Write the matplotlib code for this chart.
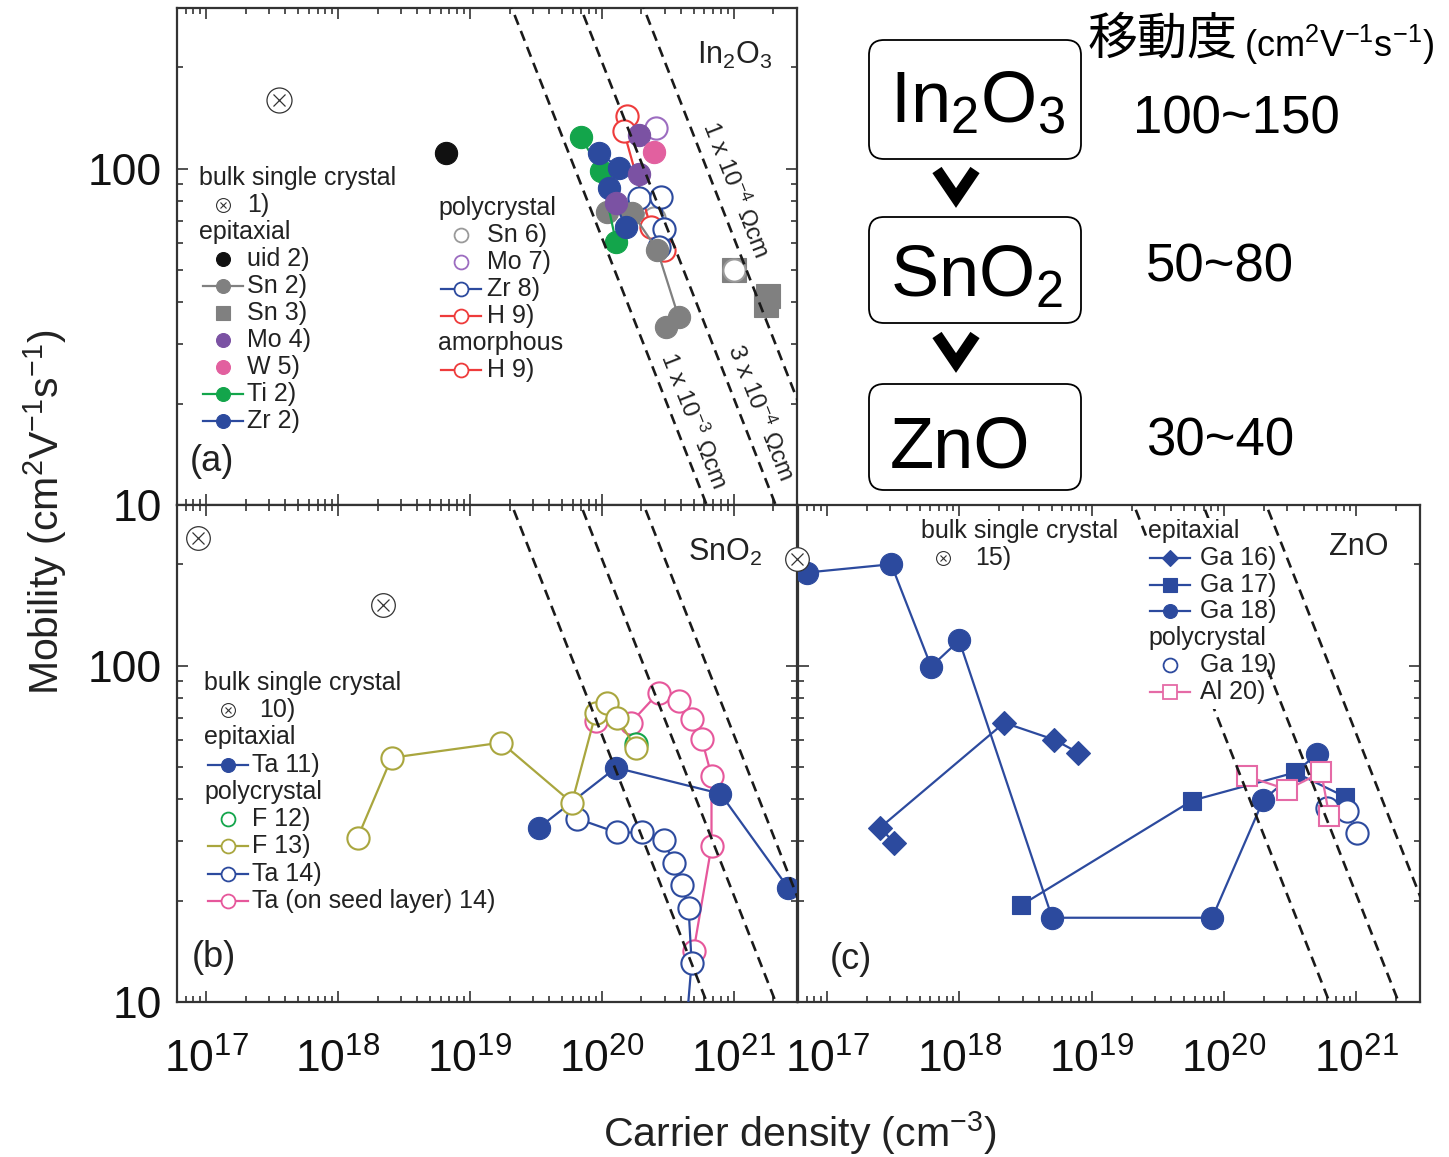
import matplotlib
matplotlib.use("Agg")
import numpy as np
import matplotlib.pyplot as plt
from matplotlib.lines import Line2D
from matplotlib.patches import FancyBboxPatch, Rectangle
from matplotlib.ticker import LogLocator, NullFormatter

plt.rcParams["font.family"] = ["Liberation Sans", "DejaVu Sans"]
plt.rcParams["mathtext.fontset"] = "custom"
plt.rcParams["mathtext.rm"] = "Liberation Sans"
plt.rcParams["mathtext.it"] = "Liberation Sans:italic"
plt.rcParams["mathtext.bf"] = "Liberation Sans:bold"

W, H = 1449, 1157

# ---------------- data: carrier density (cm^-3) / mobility (cm2/Vs) ----------------
# (a) In2O3
in_bulk_n, in_bulk_mu = [3.6e17], [160]
in_uid_n, in_uid_mu = [6.6e18], [111]
in_sn2_n = [1.09e20, 1.69e20, 2.63e20, 3.83e20, 3.05e20]
in_sn2_mu = [74.5, 74, 57.4, 36.1, 33.9]
in_sn3_n, in_sn3_mu = [1.0e21, 1.83e21, 1.77e21], [50, 41.9, 39.4]
in_mo4_n, in_mo4_mu = [1.91e20, 1.91e20, 1.28e20], [126, 96, 79]
in_w5_n, in_w5_mu = [2.48e20], [112]
in_ti2_n, in_ti2_mu = [6.95e19, 9.85e19, 1.28e20], [124, 98, 60.6]
in_zr2_n, in_zr2_mu = [9.5e19, 1.35e20, 1.13e20, 1.52e20], [111, 100.7, 87.8, 66.8]
in_sn6_n, in_sn6_mu = [1.0e21, 2.48e20], [50, 71.5]
in_mo7_n, in_mo7_mu = [2.56e20], [132]
in_zr8_n, in_zr8_mu = [1.91e20, 2.8e20, 2.95e20, 2.7e20], [82, 82.5, 65.9, 58.6]
in_h9_n, in_h9_mu = [1.55e20, 1.47e20, 2.35e20, 2.95e20], [143, 129, 66.8, 57.4]

# (b) SnO2
sn_bulk_n, sn_bulk_mu = [8.7e16, 2.21e18], [240, 151]
sn_ta11_n, sn_ta11_mu = [3.35e19, 1.28e20, 7.94e20, 2.6e21], [33.0, 49.7, 41.6, 21.8]
sn_f12_n, sn_f12_mu = [1.83e20], [58.5]
sn_f13_n = [1.41e18, 2.55e18, 1.73e19, 5.94e19, 9.02e19, 1.09e20, 1.30e20, 1.81e20]
sn_f13_mu = [30.8, 53.2, 59.0, 39.1, 72.4, 77.6, 70.0, 57.0]
sn_ta14_n = [6.49e19, 1.30e20, 2.01e20, 2.95e20, 3.51e20, 4.03e20, 4.55e20, 4.80e20, 4.32e20]
sn_ta14_mu = [35.1, 31.9, 31.9, 30.2, 25.9, 22.2, 19.0, 13.1, 8.0]
sn_seed_n = [9.02e19, 1.66e20, 2.70e20, 3.83e20, 4.80e20, 5.71e20, 6.79e20, 6.79e20, 4.97e20]
sn_seed_mu = [68.6, 67.6, 83.1, 78.7, 69.5, 60.6, 47.1, 29.1, 14.2]

# (c) ZnO
zn_bulk_n, zn_bulk_mu = [5.93e16], [207]
zn_ga16_n, zn_ga16_mu = [3.21e17, 2.52e17, 2.18e18, 5.20e18, 7.89e18], [29.7, 33.0, 67.6, 60.2, 55.1]
zn_ga17_n, zn_ga17_mu = [2.93e18, 5.74e19, 3.44e20, 8.22e20], [19.4, 39.7, 48.1, 40.7]
zn_ga18_n = [7.06e16, 3.05e17, 6.11e17, 9.95e17, 5.02e18, 8.13e19, 1.98e20, 5.06e20]
zn_ga18_mu = [189, 200, 99.3, 118.7, 17.8, 17.8, 39.9, 54.7]
zn_ga19_n, zn_ga19_mu = [6.01e20, 8.51e20, 1.01e21], [37.8, 37.0, 31.8]
zn_al20_n, zn_al20_mu = [1.50e20, 3.0e20, 5.42e20, 6.22e20], [46.8, 42.8, 48.1, 35.8]

# iso-resistivity lines (Ohm cm)
rho_values = [1e-3, 3e-4, 1e-4]
rho_labels = ["1 x 10$^{-3}$ Ωcm", "3 x 10$^{-4}$ Ωcm", "1 x 10$^{-4}$ Ωcm"]
rho_label_pos = [(4.97e20, 17.9), (1.6e21, 18.9), (1.03e21, 86.6)]
Q = 1.602e-19

x_ticks = [1e17, 1e18, 1e19, 1e20, 1e21]
x_tick_labels = ["$10^{17}$", "$10^{18}$", "$10^{19}$", "$10^{20}$", "$10^{21}$"]
y_ticks = [10, 100]
y_tick_labels = ["10", "100"]

materials = ["In$_2$O$_3$", "SnO$_2$", "ZnO"]
mobility_ranges = ["100~150", "50~80", "30~40"]

# colours
BLUE = "#2c4a9e"
GREEN = "#13a54b"
PURPLE = "#7b52a3"
PINK = "#e2609f"
GRAY = "#808080"
LGRAY = "#9a9a9a"
RED = "#ee3b3b"
LPURPLE = "#9c6cc0"
OLIVE = "#a9a63e"
SEEDPINK = "#e6579b"
ALPINK = "#e56aa6"
INK = "#333333"

LEG_FS = 18


def axes_rect(left, top, right, bottom):
    return [left / W, 1 - bottom / H, (right - left) / W, (bottom - top) / H]


def style_axes(ax, xlabels=True, ylabels=True):
    ax.set_xscale("log")
    ax.set_yscale("log")
    ax.set_xlim(10 ** 16.78, 10 ** 21.48)
    ax.set_ylim(10, 300)
    ax.set_xticks(x_ticks, labels=x_tick_labels)
    ax.set_yticks(y_ticks, labels=y_tick_labels)
    ax.xaxis.set_minor_locator(LogLocator(base=10, subs=np.arange(2, 10), numticks=30))
    ax.yaxis.set_minor_locator(LogLocator(base=10, subs=np.arange(2, 10), numticks=30))
    ax.xaxis.set_minor_formatter(NullFormatter())
    ax.yaxis.set_minor_formatter(NullFormatter())
    ax.tick_params(which="both", direction="in", top=True, right=True, color=INK,
                   labelcolor="#111111", labelsize=32, width=1.2)
    ax.tick_params(which="major", length=8)
    ax.tick_params(which="minor", length=4.5)
    ax.tick_params(axis="x", pad=26)
    ax.tick_params(axis="y", pad=11)
    ax.tick_params(labelbottom=xlabels, labelleft=ylabels)
    for sp in ax.spines.values():
        sp.set_linewidth(1.6)
        sp.set_color(INK)


def rho_lines(ax):
    n_ends = np.array([1e16, 1e23])
    for rho in rho_values:
        ax.plot(n_ends, 1.0 / (Q * rho * n_ends), ls=(0, (4, 2.5)), color="#1a1a1a", lw=1.9, zorder=5)


def series(ax, n, mu, color, marker="o", filled=True, line=True, ms=16, zorder=3):
    ax.plot(n, mu, ls="-" if line else "none", color=color, lw=1.6, marker=marker, ms=ms,
            mfc=color if filled else "white", mec=color, mew=0.8 if filled else 1.5, zorder=zorder)


def bulk(ax, n, mu, ms=18, clip=True):
    ax.plot(n, mu, ls="none", marker="o", ms=ms, mfc="white", mec=INK, mew=0.9, clip_on=clip, zorder=4)
    ax.plot(n, mu, ls="none", marker="x", ms=ms * 0.48, mec=INK, mew=0.9, clip_on=clip, zorder=4)


def draw_legend(ax, entries, x_head, x_mark, x_text, y0, dy, bulk_text=None):
    tr = ax.transAxes
    y = y0
    for e in entries:
        kind = e[0]
        if kind == "head":
            ax.text(x_head, y, e[1], transform=tr, fontsize=LEG_FS, ha="left", va="center",
                    color="#222222", zorder=8)
        elif kind == "bulk":
            ax.plot([x_mark], [y], ls="none", marker="o", ms=10, mfc="white", mec=INK, mew=0.8,
                    transform=tr, zorder=8)
            ax.plot([x_mark], [y], ls="none", marker="x", ms=5, mec=INK, mew=0.8, transform=tr, zorder=8)
            ax.text(bulk_text if bulk_text else x_text, y, e[1], transform=tr, fontsize=LEG_FS,
                    ha="left", va="center", color="#222222", zorder=8)
        else:
            _, label, color, marker, filled, line = e
            if line:
                ax.plot([x_mark - 0.032, x_mark + 0.032], [y, y], color=color, lw=1.6,
                        transform=tr, zorder=7)
            ax.plot([x_mark], [y], ls="none", marker=marker, ms=10 if marker != "D" else 8,
                    mfc=color if filled else "white", mec=color, mew=0.8 if filled else 1.3,
                    transform=tr, zorder=8)
            ax.text(x_text, y, label, transform=tr, fontsize=LEG_FS, ha="left", va="center",
                    color="#222222", zorder=8)
        y -= dy


fig = plt.figure(figsize=(W / 100, H / 100), dpi=100)

ax_a = fig.add_axes(axes_rect(177, 8, 797, 505))
ax_b = fig.add_axes(axes_rect(177, 505, 797, 1002))
ax_c = fig.add_axes(axes_rect(798, 505, 1420, 1002))

style_axes(ax_a, xlabels=False, ylabels=True)
style_axes(ax_b, xlabels=True, ylabels=True)
style_axes(ax_c, xlabels=True, ylabels=False)

# ---------------- (a) In2O3 ----------------
rho_lines(ax_a)
bulk(ax_a, in_bulk_n, in_bulk_mu)
series(ax_a, in_sn3_n, in_sn3_mu, GRAY, marker="s", line=False, ms=17)
series(ax_a, in_sn6_n, in_sn6_mu, LGRAY, filled=False, line=False)
series(ax_a, in_h9_n, in_h9_mu, RED, filled=False)
series(ax_a, in_mo7_n, in_mo7_mu, LPURPLE, filled=False, line=False)
series(ax_a, in_zr8_n, in_zr8_mu, BLUE, filled=False)
series(ax_a, in_sn2_n, in_sn2_mu, GRAY)
series(ax_a, in_ti2_n, in_ti2_mu, GREEN)
series(ax_a, in_zr2_n, in_zr2_mu, BLUE)
series(ax_a, in_mo4_n, in_mo4_mu, PURPLE, line=False)
series(ax_a, in_w5_n, in_w5_mu, PINK, line=False)
series(ax_a, in_uid_n, in_uid_mu, "#111111", line=False)

for (xn, ym), txt in zip(rho_label_pos, rho_labels):
    ax_a.text(xn, ym, txt, rotation=-68.5, rotation_mode="anchor", ha="center", va="center",
              fontsize=17.5, color="#222222", zorder=6)

ax_a.text(0.96, 0.905, "In$_2$O$_3$", transform=ax_a.transAxes, ha="right", va="center",
          fontsize=22, color="#222222")
ax_a.text(0.021, 0.087, "(a)", transform=ax_a.transAxes, ha="left", va="center",
          fontsize=26, color="#222222")

draw_legend(ax_a, [
    ("head", "bulk single crystal"),
    ("bulk", "1)"),
    ("head", "epitaxial"),
    ("item", "uid 2)", "#111111", "o", True, False),
    ("item", "Sn 2)", GRAY, "o", True, True),
    ("item", "Sn 3)", GRAY, "s", True, False),
    ("item", "Mo 4)", PURPLE, "o", True, False),
    ("item", "W 5)", PINK, "o", True, False),
    ("item", "Ti 2)", GREEN, "o", True, True),
    ("item", "Zr 2)", BLUE, "o", True, True),
], x_head=0.0355, x_mark=0.074, x_text=0.113, y0=0.658, dy=0.0543)

draw_legend(ax_a, [
    ("head", "polycrystal"),
    ("item", "Sn 6)", LGRAY, "o", False, False),
    ("item", "Mo 7)", LPURPLE, "o", False, False),
    ("item", "Zr 8)", BLUE, "o", False, True),
    ("item", "H 9)", RED, "o", False, True),
    ("head", "amorphous"),
    ("item", "H 9)", RED, "o", False, True),
], x_head=0.421, x_mark=0.458, x_text=0.50, y0=0.5976, dy=0.0543)

# ---------------- (b) SnO2 ----------------
rho_lines(ax_b)
bulk(ax_b, sn_bulk_n, sn_bulk_mu, ms=17)
series(ax_b, sn_seed_n, sn_seed_mu, SEEDPINK, filled=False)
series(ax_b, sn_ta14_n, sn_ta14_mu, BLUE, filled=False)
series(ax_b, sn_ta11_n, sn_ta11_mu, BLUE)
series(ax_b, sn_f12_n, sn_f12_mu, GREEN, filled=False, line=False)
series(ax_b, sn_f13_n, sn_f13_mu, OLIVE, filled=False)

ax_b.text(0.944, 0.905, "SnO$_2$", transform=ax_b.transAxes, ha="right", va="center",
          fontsize=22, color="#222222")
ax_b.text(0.024, 0.09, "(b)", transform=ax_b.transAxes, ha="left", va="center",
          fontsize=26, color="#222222")

draw_legend(ax_b, [
    ("head", "bulk single crystal"),
    ("bulk", "10)"),
    ("head", "epitaxial"),
    ("item", "Ta 11)", BLUE, "o", True, True),
    ("head", "polycrystal"),
    ("item", "F 12)", GREEN, "o", False, False),
    ("item", "F 13)", OLIVE, "o", False, True),
    ("item", "Ta 14)", BLUE, "o", False, True),
    ("item", "Ta (on seed layer) 14)", SEEDPINK, "o", False, True),
], x_head=0.0435, x_mark=0.082, x_text=0.121, y0=0.642, dy=0.0548, bulk_text=0.132)

# ---------------- (c) ZnO ----------------
rho_lines(ax_c)
bulk(ax_c, zn_bulk_n, zn_bulk_mu, ms=17, clip=False)
series(ax_c, zn_ga18_n, zn_ga18_mu, BLUE)
series(ax_c, zn_ga16_n, zn_ga16_mu, BLUE, marker="D", ms=12)
series(ax_c, zn_ga17_n, zn_ga17_mu, BLUE, marker="s", ms=13.5)
series(ax_c, zn_ga19_n, zn_ga19_mu, BLUE, filled=False, line=False)
series(ax_c, zn_al20_n, zn_al20_mu, ALPINK, marker="s", filled=False, ms=14)

ax_c.add_patch(Rectangle((0.561, 0.59), 0.19, 0.384, transform=ax_c.transAxes,
                         fc="white", ec="none", zorder=6))
ax_c.text(0.949, 0.915, "ZnO", transform=ax_c.transAxes, ha="right", va="center",
          fontsize=22, color="#222222")
ax_c.text(0.051, 0.085, "(c)", transform=ax_c.transAxes, ha="left", va="center",
          fontsize=26, color="#222222")

draw_legend(ax_c, [
    ("head", "bulk single crystal"),
    ("bulk", "15)"),
], x_head=0.198, x_mark=0.233, x_text=0.285, y0=0.948, dy=0.054)

draw_legend(ax_c, [
    ("head", "epitaxial"),
    ("item", "Ga 16)", BLUE, "D", True, True),
    ("item", "Ga 17)", BLUE, "s", True, True),
    ("item", "Ga 18)", BLUE, "o", True, True),
    ("head", "polycrystal"),
    ("item", "Ga 19)", BLUE, "o", False, False),
    ("item", "Al 20)", ALPINK, "s", False, True),
], x_head=0.563, x_mark=0.598, x_text=0.646, y0=0.948, dy=0.054)

# ---------------- axis titles ----------------
fig.text(45 / W, 1 - 512 / H, "Mobility (cm$^{2}$V$^{-1}$s$^{-1}$)", rotation=90,
         ha="center", va="center", fontsize=29.5, color="#222222")
fig.text(800 / W, 1 - 1133 / H, "Carrier density (cm$^{-3}$)", ha="center", va="center",
         fontsize=29.5, color="#222222")

# ---------------- right-top summary ----------------
box_tops = [40, 217, 384]
box_bottoms = [159, 323, 490]
box_baselines = [122, 297, 468]
range_centers = [(1236, 120), (1220, 268), (1220, 442)]
inch = fig.dpi_scale_trans

for top, bot, base, label, rng, (rx, ry) in zip(box_tops, box_bottoms, box_baselines,
                                                 materials, mobility_ranges, range_centers):
    fig.add_artist(FancyBboxPatch((869 / 100, (H - bot) / 100), 212 / 100, (bot - top) / 100,
                                  boxstyle="round,pad=0,rounding_size=0.15", transform=inch,
                                  fc="white", ec="black", lw=1.3))
    fig.text(890 / W, 1 - base / H, label, ha="left", va="baseline", fontsize=52, color="black")
    fig.text(rx / W, 1 - ry / H, rng, ha="center", va="center", fontsize=38, color="black")

for ytop in [170, 335]:
    xs = np.array([937, 956, 975]) / 100
    ys = (H - np.array([ytop, ytop + 28, ytop])) / 100
    fig.add_artist(Line2D(xs, ys, transform=inch, color="black", lw=8,
                          solid_joinstyle="miter", solid_capstyle="butt"))

fig.text(1088 / W, 1 - 40 / H, "移動度", ha="left", va="center", fontsize=36,
         family=["Noto Sans CJK JP", "DejaVu Sans"], color="black")
fig.text(1244 / W, 1 - 45 / H, "(cm$^2$V$^{-1}$s$^{-1}$)", ha="left", va="center", fontsize=26,
         color="black")

fig.savefig("out.png", dpi=100)
